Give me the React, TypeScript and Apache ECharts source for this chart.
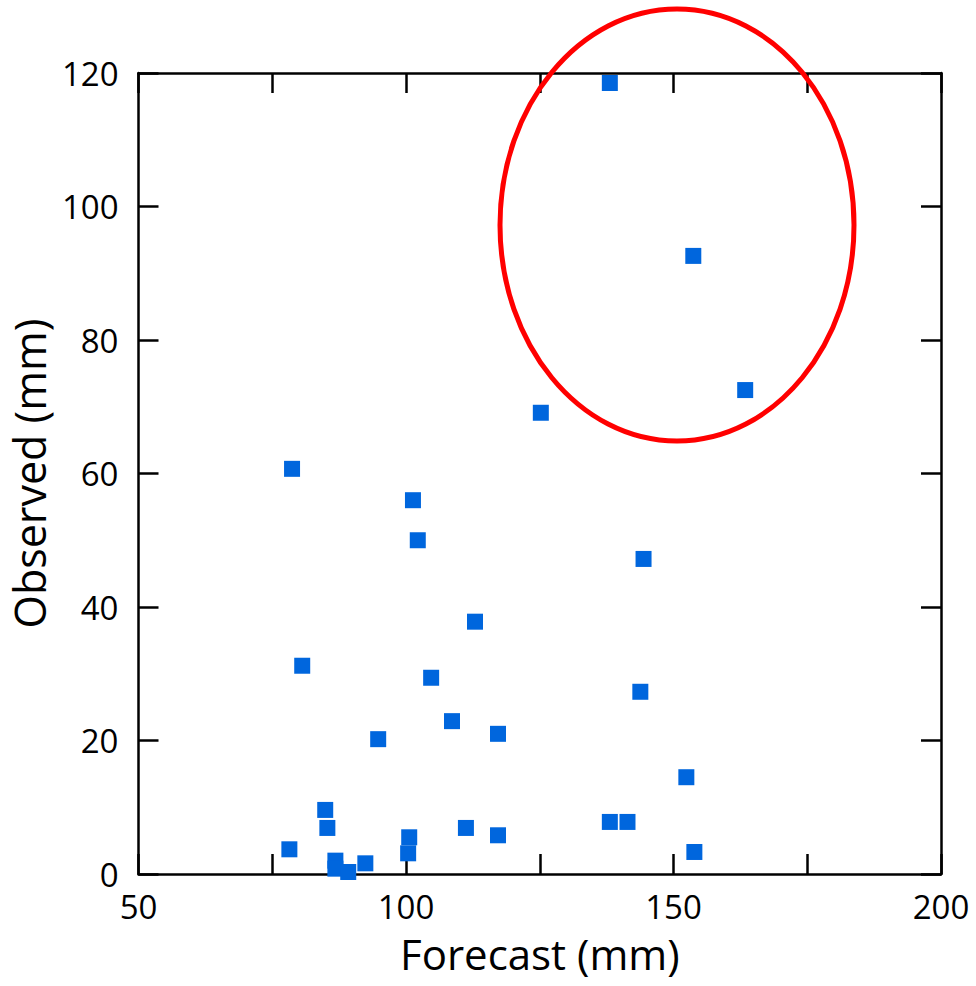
import React, { useEffect, useRef } from "react";
import * as echarts from "echarts";

const forecast = [138.1, 153.7, 163.4, 125.2, 78.7, 101.3, 102.2, 144.4, 112.9, 80.6, 104.7, 143.8, 108.6, 117.2, 94.8, 152.4, 84.9, 85.3, 100.6, 111.2, 117.2, 138.1, 141.4, 153.9, 78.2, 86.8, 86.8, 89.2, 92.4, 100.4];
const observed = [118.5, 92.6, 72.5, 69.1, 60.7, 56.0, 50.0, 47.2, 37.8, 31.2, 29.4, 27.3, 22.9, 21.0, 20.2, 14.5, 9.6, 6.9, 5.5, 6.9, 5.8, 7.8, 7.8, 3.3, 3.7, 2.0, 0.8, 0.3, 1.6, 3.1];
const xTickLabels = ["50", "100", "150", "200"];
const xTitle = "Forecast (mm)";
const yTitle = "Observed (mm)";

const FONT = "'Open Sans', 'Noto Sans', sans-serif";

export default function App() {
  const ref = useRef<HTMLDivElement>(null);
  useEffect(() => {
    if (!ref.current) return;
    const chart = echarts.init(ref.current, null, { renderer: "svg" });
    const axisLine = { show: true, onZero: false, lineStyle: { color: "#000", width: 2.5 } };
    const tick = { show: true, inside: true, length: 20, lineStyle: { color: "#000", width: 2.5 } };
    chart.setOption({
      animation: false,
      backgroundColor: "#fff",
      grid: { left: 137, right: 35, top: 73, bottom: 112, containLabel: false },
      xAxis: [
        {
          type: "value",
          position: "bottom",
          min: 50,
          max: 200,
          interval: 25,
          axisLine,
          axisTick: { ...tick },
          splitLine: { show: false },
          axisLabel: {
            color: "#000",
            fontSize: 33,
            fontFamily: FONT,
            margin: 16,
            formatter: (v: number) => (xTickLabels.includes(String(v)) ? String(v) : ""),
          },
          name: xTitle,
          nameLocation: "middle",
          nameGap: 58,
          nameTextStyle: { color: "#000", fontSize: 42, fontFamily: FONT },
        },
        {
          type: "value",
          position: "top",
          min: 50,
          max: 200,
          interval: 25,
          axisLine,
          axisTick: { ...tick },
          splitLine: { show: false },
          axisLabel: { show: false },
        },
      ],
      yAxis: [
        {
          type: "value",
          position: "left",
          min: 0,
          max: 120,
          interval: 20,
          axisLine,
          axisTick: { ...tick },
          splitLine: { show: false },
          axisLabel: { color: "#000", fontSize: 33, fontFamily: FONT, margin: 20 },
          name: yTitle,
          nameLocation: "middle",
          nameGap: 82,
          nameTextStyle: { color: "#000", fontSize: 43, fontFamily: FONT },
        },
        {
          type: "value",
          position: "right",
          min: 0,
          max: 120,
          interval: 20,
          axisLine,
          axisTick: { ...tick },
          splitLine: { show: false },
          axisLabel: { show: false },
        },
      ],
      series: [
        {
          type: "scatter",
          symbol: "rect",
          symbolSize: 16,
          itemStyle: { color: "#0066dd", opacity: 1 },
          data: forecast.map((f, i) => [f, observed[i]]),
          z: 3,
        },
      ],
      graphic: [
        {
          type: "ellipse",
          shape: { cx: 677, cy: 225, rx: 177, ry: 216 },
          style: { fill: "none", stroke: "#ff0000", lineWidth: 5 },
          z: 10,
        },
      ],
    });
    return () => chart.dispose();
  }, []);
  return (
    <div
      ref={ref}
      style={{ position: "fixed", left: 0, top: 0, width: 976, height: 986, background: "#fff" }}
    />
  );
}
